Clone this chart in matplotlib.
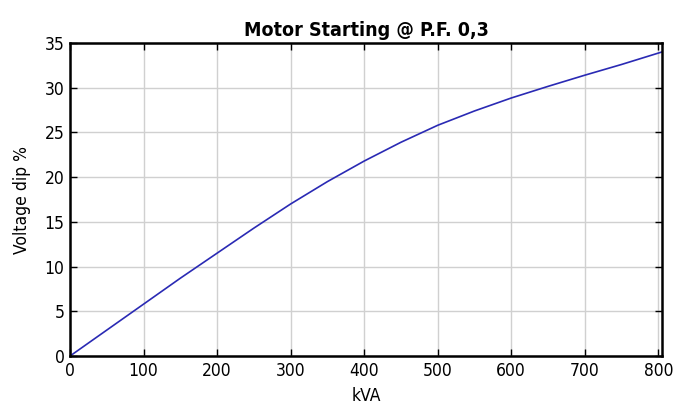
import numpy as np
import matplotlib
matplotlib.use('Agg')
import matplotlib.pyplot as plt

kva = [0, 50, 100, 150, 200, 250, 300, 350, 400, 450, 500, 550, 600, 650, 700, 750, 805]
dip = [0, 2.9, 5.8, 8.7, 11.5, 14.3, 17.0, 19.5, 21.8, 23.9, 25.8, 27.4, 28.85, 30.15, 31.4, 32.6, 34.0]
xticks = [0, 100, 200, 300, 400, 500, 600, 700, 800]
yticks = [0, 5, 10, 15, 20, 25, 30, 35]

plt.rcParams['font.family'] = 'DejaVu Sans'
plt.rcParams['font.stretch'] = 'condensed'

fig = plt.figure(figsize=(6.76, 4.07), dpi=100)
ax = fig.add_axes([0.1036, 0.1253, 0.8756, 0.7690])

ax.plot(kva, dip, color='#2a2ab4', linewidth=1.2)

ax.set_xlim(0, 805)
ax.set_ylim(0, 35)
ax.set_xticks(xticks)
ax.set_yticks(yticks)
ax.grid(True, color='#d0d0d0', linewidth=1.0)
ax.set_axisbelow(True)
ax.tick_params(direction='in', length=5, width=1, top=True, right=True, labelsize=12.5, pad=4)
for s in ax.spines.values():
    s.set_linewidth(1.8)

ax.set_title('Motor Starting @ P.F. 0,3', fontsize=14, fontweight='bold', pad=5)
ax.set_xlabel('kVA', fontsize=12.5, labelpad=5)
ax.set_ylabel('Voltage dip %', fontsize=12.5, labelpad=10)

plt.savefig('out.png', dpi=100)
